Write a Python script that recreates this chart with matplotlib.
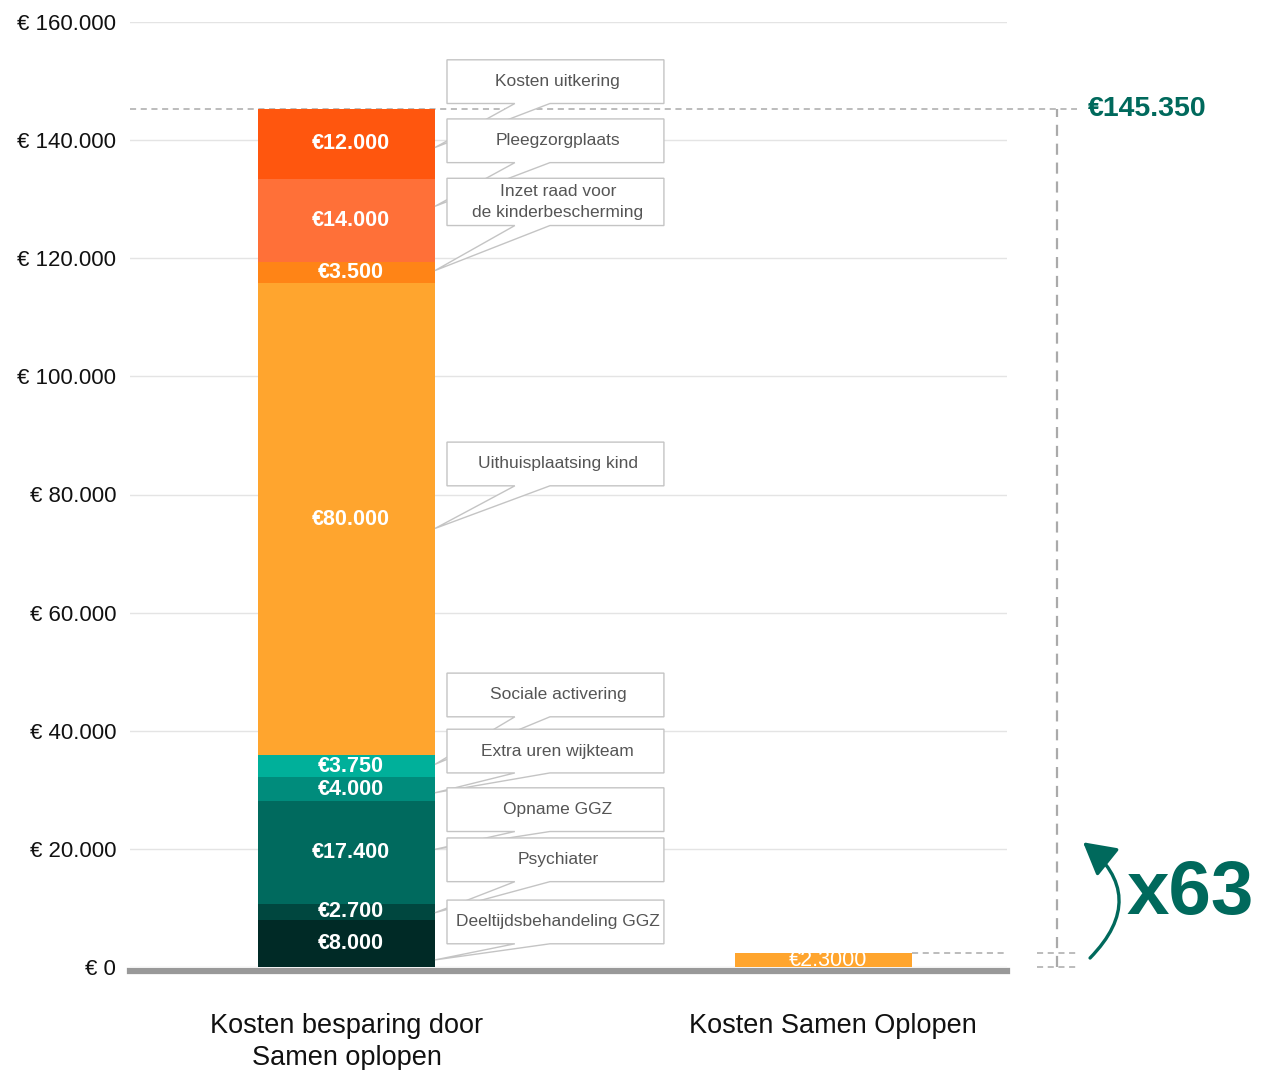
import numpy as np
import matplotlib.pyplot as plt
from matplotlib.patches import Polygon
import matplotlib.transforms as mtransforms

plt.rcParams['font.family'] = ['Liberation Sans', 'DejaVu Sans']

# data (bottom -> top of the first bar)
segments = [8000, 2700, 17400, 4000, 3750, 80000, 3500, 14000, 12000]
seg_colors = ['#002a26', '#00473f', '#006a5e', '#008c7c', '#00b09a',
              '#ffa52e', '#ff8416', '#ff7038', '#ff560e']
callout_names = ['Deeltijdsbehandeling GGZ', 'Psychiater', 'Opname GGZ',
                 'Extra uren wijkteam', 'Sociale activering', 'Uithuisplaatsing kind',
                 'Inzet raad voor\nde kinderbescherming', 'Pleegzorgplaats', 'Kosten uitkering']
categories = ['Kosten besparing door\nSamen oplopen', 'Kosten Samen Oplopen']
second_value = 2300
second_label = '€2.3000'
total_label = '€145.350'
factor_label = 'x63'
yticks = np.arange(0, 160001, 20000)

# layout of the callout boxes: centre y (data units) and where the tail hits the segment
box_y = [7630, 18150, 26640, 36560, 46060, 85170, 129540, 139890, 149900]
tip_frac = [0.15, 0.44, 0.53, 0.35, 0.59, 0.48, 0.59, 0.675, 0.45]

def eur(v):
    return '€' + f'{v:,}'.replace(',', '.')

teal = '#00695c'
dash_col = '#aaaaaa'

fig = plt.figure(figsize=(12.63, 10.70), dpi=100)
ax = fig.add_axes([130 / 1263, 103 / 1070, 877 / 1263, 945 / 1070])

for s in ['top', 'right', 'left']:
    ax.spines[s].set_visible(False)
ax.spines['bottom'].set_position(('outward', 3))
ax.spines['bottom'].set_color('#999999')
ax.spines['bottom'].set_linewidth(4.5)

bw = 0.371
bottoms = np.concatenate([[0], np.cumsum(segments)[:-1]])
total = sum(segments)

ax.bar(0, segments, bottom=bottoms, width=bw, color=seg_colors, zorder=2)
for v, b in zip(segments, bottoms):
    ax.text(0.01, b + v / 2, eur(v), ha='center', va='center', color='white',
            fontsize=15.5, fontweight='bold', zorder=3)

ax.bar(1, second_value, width=bw, color='#ffa52e', zorder=2)
ax.text(1.01, second_value / 2, second_label, ha='center', va='center',
        color='white', fontsize=15.5, zorder=3)

# callouts
L, R = 0.2107, 0.6656
t1, t2 = 0.353, 0.4266
tip_x = bw / 2
for i, (name, yc, v, b, f) in enumerate(zip(callout_names, box_y, segments, bottoms, tip_frac)):
    hh = 4000 if '\n' in name else 3700
    top, bot = yc + hh, yc - hh
    tip_y = b + v * f
    poly = Polygon([(L, top), (R, top), (R, bot), (t2, bot), (tip_x, tip_y),
                    (t1, bot), (L, bot)], closed=True, facecolor='white',
                   edgecolor='#c4c4c4', linewidth=1, zorder=20 - i)
    ax.add_patch(poly)
    ax.text((L + R) / 2 + 0.005, yc, name, ha='center', va='center', color='#555555',
            fontsize=12.5, zorder=20 - i, linespacing=1.45)

# axes styling
ax.set_xlim(-0.454, 1.385)
ax.set_ylim(0, 160000)
ax.set_yticks(yticks)
ax.set_yticklabels(['€ ' + f'{int(t):,}'.replace(',', '.') if t else '€ 0' for t in yticks],
                   fontsize=16, color='#111111')
ax.tick_params(axis='y', length=0, pad=10)
ax.set_xticks([0, 1.02])
ax.set_xticklabels(categories, fontsize=19.5, color='#111111', va='top', linespacing=1.3)
ax.tick_params(axis='x', length=0, pad=30)
ax.grid(axis='y', color='#e4e4e4', linewidth=1, zorder=0)
ax.set_axisbelow(True)

# totals bracket on the right
trans = mtransforms.blended_transform_factory(ax.transAxes, ax.transData)
dkw = dict(color=dash_col, linewidth=1.1, linestyle=(0, (4, 3)), clip_on=False)
ax.plot([0, 1.08], [total, total], transform=trans, zorder=1, **dkw)
ax.plot([1 + bw / 2, 1.385], [second_value, second_value], **dkw)
ax.plot([1.034, 1.08], [second_value, second_value], transform=trans, **dkw)
ax.plot([1.034, 1.08], [0, 0], transform=trans, **dkw)
ax.plot([1.057, 1.057], [0, total], transform=trans, color=dash_col, linewidth=1.6,
        linestyle=(0, (5, 3.5)), clip_on=False)

ax.text(1.092, total, total_label, transform=trans, ha='left', va='center',
        color=teal, fontsize=20.5, fontweight='bold')
ax.text(1.136, 12200, factor_label, transform=trans, ha='left', va='center',
        color=teal, fontsize=55, fontweight='bold')
ax.annotate('', xy=(1.0867, 21120), xycoords=trans, xytext=(1.0947, 1520), textcoords=trans,
            arrowprops=dict(arrowstyle='-|>,head_length=0.9,head_width=0.5', color=teal,
                            linewidth=2.4, mutation_scale=22, shrinkA=0, shrinkB=0,
                            connectionstyle='arc3,rad=0.55'),
            annotation_clip=False)

fig.savefig('out.png', dpi=100)
